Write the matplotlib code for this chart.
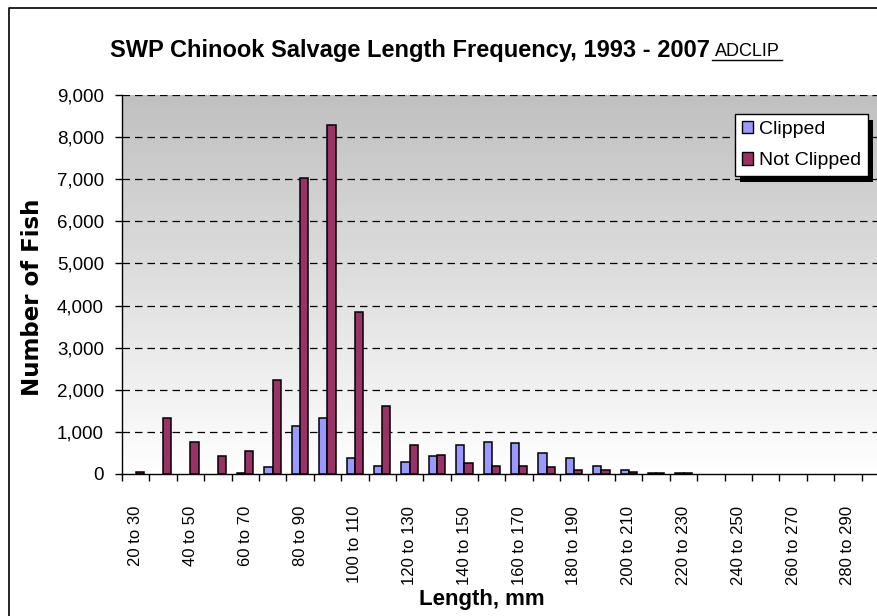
''' SWP chinook salvage length frequency, clipped vs not clipped '''
import numpy as np
import matplotlib
matplotlib.use('Agg')
import matplotlib.pyplot as plt
from matplotlib.patches import Rectangle, Patch
from matplotlib.lines import Line2D
from matplotlib.ticker import FuncFormatter

plt.rcParams['font.family'] = ['Liberation Sans', 'DejaVu Sans']

# length bins 20-30 ... 290-300 mm
bin_starts = list(range(20, 300, 10))
bin_labels = ['%d to %d' % (b, b + 10) for b in bin_starts]

clipped = [0, 0, 0, 0, 30, 158, 1145, 1327, 387, 197, 276, 427, 687, 766,
           726, 505, 387, 197, 95, 20, 15, 0, 0, 0, 0, 0, 0, 0]
not_clipped = [40, 1327, 766, 419, 537, 2240, 7020, 8276, 3841, 1603, 687, 458, 268, 197,
               190, 158, 87, 87, 47, 20, 15, 0, 0, 0, 0, 0, 0, 0]

series_names = ['Clipped', 'Not Clipped']
series_colors = ['#9999FF', '#993366']

W, H = 877, 616
fig = plt.figure(figsize=(W / 100, H / 100), dpi=100)

def fx(px):
    return px / W

def fy(py):
    return 1 - py / H

# plot area runs past the right edge of the picture (it was cropped)
left, right, top, bottom = 122, 889, 95, 474
ax = fig.add_axes([fx(left), fy(bottom), fx(right - left), (bottom - top) / H])

# grey (top) to white (bottom) gradient in the plot area
grad = np.linspace(255, 192, 256).reshape(-1, 1) / 255.0
ax.imshow(np.dstack([grad, grad, grad]), extent=[0, 1, 0, 1], origin='lower',
          transform=ax.transAxes, aspect='auto', zorder=0, interpolation='bilinear')

x = np.arange(len(bin_labels))
bw = 0.3
for i, (vals, col) in enumerate(zip([clipped, not_clipped], series_colors)):
    b = ax.bar(x + (i - 0.5) * bw, vals, width=bw, color=col, edgecolor='black',
               linewidth=1.1, align='center', zorder=3)
    # empty bins draw nothing
    for patch, v in zip(b, vals):
        if v == 0:
            patch.set_visible(False)

ax.set_xlim(-0.5, len(x) - 0.5)
ax.set_ylim(0, 9000)
ax.set_yticks(range(0, 9001, 1000))
ax.yaxis.set_major_formatter(FuncFormatter(lambda v, p: '{:,.0f}'.format(v)))
for yv in range(1000, 9001, 1000):
    ax.axhline(yv, color='black', linewidth=0.9, linestyle=(0, (6, 4)), zorder=1)

ax.set_xticks(x[::2])
ax.set_xticklabels(bin_labels[::2], rotation=90, fontsize=12)
ax.set_xticks(np.arange(-0.5, len(x)), minor=True)
ax.tick_params(axis='x', which='major', length=0, pad=23)
ax.tick_params(axis='x', which='minor', length=5, width=1, direction='out')
ax.tick_params(axis='y', length=5, width=1, direction='out', pad=8, labelsize=13.5)

for s in ['top', 'right']:
    ax.spines[s].set_visible(False)
ax.spines['left'].set_linewidth(1)
ax.spines['bottom'].set_linewidth(1)

# axis titles placed where the original has them
fig.text(fx(33), fy(297), 'Number of Fish', rotation=90, ha='center', va='center',
         fontsize=16.5, fontweight='bold', family=['DejaVu Sans'])
fig.text(fx(482), fy(600), 'Length, mm', ha='center', va='center',
         fontsize=16, fontweight='bold')

# title + ADCLIP tag
fig.text(fx(410), fy(51), 'SWP Chinook Salvage Length Frequency, 1993 - 2007',
         ha='center', va='center', fontsize=17, fontweight='bold')
fig.text(fx(747), fy(51), 'ADCLIP', ha='center', va='center', fontsize=13)
fig.add_artist(Line2D([fx(712), fx(782)], [fy(60), fy(60)], color='black', linewidth=1))

# outer chart border (left and top visible)
fig.add_artist(Line2D([fx(9), fx(9), fx(877)], [fy(616), fy(8), fy(8)],
                      color='black', linewidth=1.2))

# legend with hard black shadow
handles = [Patch(facecolor=c, edgecolor='black', linewidth=1) for c in series_colors]
leg = fig.legend(handles=handles, labels=series_names, loc='upper left',
                 bbox_to_anchor=(fx(735), fy(114)), fontsize=14, frameon=True,
                 fancybox=False, edgecolor='black', framealpha=1,
                 handlelength=0.6, handleheight=0.6, handletextpad=0.3,
                 borderpad=0.35, labelspacing=0.75, borderaxespad=0)
leg.get_frame().set_linewidth(1)
leg.set_zorder(5)
fig.canvas.draw()
bb = leg.get_window_extent()
fig.add_artist(Rectangle((bb.x0 + 5, bb.y0 - 6), bb.width, bb.height, transform=None,
                         facecolor='black', edgecolor='none', zorder=4))

fig.savefig('out.png', dpi=100)
